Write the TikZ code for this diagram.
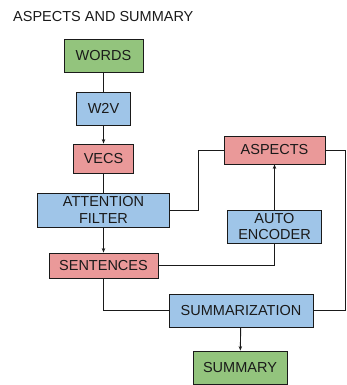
\documentclass[tikz,border=0pt]{standalone}
\usepackage{fontspec}
\setmainfont{Liberation Sans}
\usetikzlibrary{arrows.meta}
\definecolor{boxgreen}{HTML}{93C47D}
\definecolor{boxblue}{HTML}{9FC5E8}
\definecolor{boxred}{HTML}{EA9999}
\definecolor{ink}{HTML}{1A1A1A}
\begin{document}
\begin{tikzpicture}[x=1pt,y=-1pt,
  box/.style={draw=ink, line width=0.9pt, inner sep=0pt, align=center,
    text=ink, font=\fontsize{14.5}{16.7}\selectfont},
  link/.style={draw=ink, line width=0.9pt},
  arr/.style={link, -{Stealth[length=4.5pt,width=3.5pt]}}]
\useasboundingbox (0,0) rectangle (346,385);
\node[anchor=base west, inner sep=0pt, text=ink, font=\fontsize{14.5}{16.7}\selectfont]
  (title) at (13,21.7) {ASPECTS AND SUMMARY};
% pipeline boxes
\node[box, fill=boxgreen, minimum width=79pt, minimum height=33pt] (words) at (103.5,56) {WORDS};
\node[box, fill=boxblue, minimum width=54pt, minimum height=33pt] (w2v) at (103.5,108.5) {W2V};
\node[box, fill=boxred, minimum width=60pt, minimum height=29pt] (vecs) at (103.5,158.5) {VECS};
\node[box, fill=boxblue, minimum width=132pt, minimum height=34pt] (att) at (103.5,210) {ATTENTION\\FILTER};
\node[box, fill=boxred, minimum width=101pt, minimum height=28pt] (asp) at (274.5,150) {ASPECTS};
\node[box, fill=boxblue, minimum width=94pt, minimum height=33pt] (auto) at (274.5,226.5) {AUTO\\ENCODER};
\node[box, fill=boxred, minimum width=109pt, minimum height=25pt] (sent) at (103.5,265.5) {SENTENCES};
\node[box, fill=boxblue, minimum width=144pt, minimum height=33pt] (summ) at (241,310.5) {SUMMARIZATION};
\node[box, fill=boxgreen, minimum width=94pt, minimum height=33pt] (summary) at (240,367.5) {SUMMARY};
% connectors
\draw[link] (words) -- (w2v);
\draw[arr] (w2v) -- (vecs);
\draw[link] (vecs) -- (att);
\draw[arr] (att) -- (sent);
\draw[link] (att.east) -- ++(28,0) |- (asp.west);
\draw[arr] (auto) -- (asp);
\draw[link] (sent.east) -| (auto.south);
\draw[link] (asp.east) -- ++(20,0) |- (summ.east);
\draw[link] (sent.south) |- (summ.west);
\draw[arr] (summ) -- (summary);
\end{tikzpicture}
\end{document}
